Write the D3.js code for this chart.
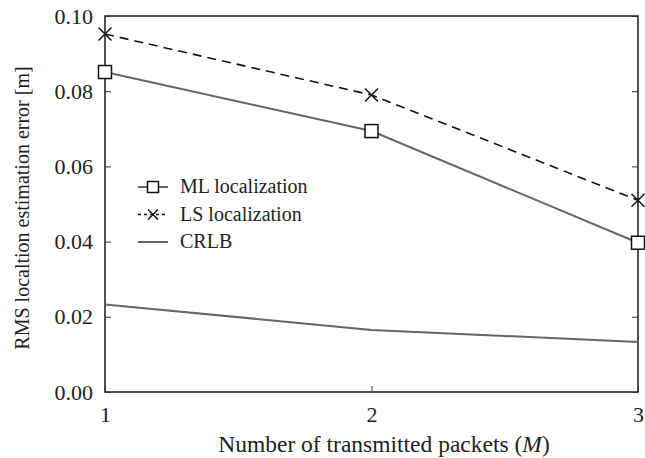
<!DOCTYPE html>
<html>
<head>
<meta charset="utf-8">
<script src="https://cdn.jsdelivr.net/npm/d3@7"></script>
<style>
  body { margin: 0; background: #fff; }
</style>
</head>
<body>
<svg id="chart" width="645" height="458"></svg>
<script>
// data
var packets = [1, 2, 3];
var mlErr = [0.0851, 0.0694, 0.0397];
var lsErr = [0.0952, 0.0790, 0.0510];
var crlb = [0.0233, 0.0165, 0.0133];
var yTicks = [0, 0.02, 0.04, 0.06, 0.08, 0.10];

var FONT = "'Liberation Serif'";

var svg = d3.select("#chart");
var L = 105, R = 638, T = 16, B = 392;

var x = d3.scaleLinear().domain([1, 3]).range([L, R]);
var y = d3.scaleLinear().domain([0, 0.1]).range([B, T]);

// frame
svg.append("rect")
	.attr("x", L).attr("y", T)
	.attr("width", R - L).attr("height", B - T)
	.style("fill", "none")
	.style("stroke", "#1a1a1a")
	.style("stroke-width", 1.5);

// ticks point inward on every side
var yl = svg.append("g").attr("transform", "translate(" + L + ",0)")
	.call(d3.axisLeft(y).tickValues(yTicks).tickSize(-6).tickPadding(12).tickFormat(d3.format(".2f")));
var yr = svg.append("g").attr("transform", "translate(" + R + ",0)")
	.call(d3.axisRight(y).tickValues(yTicks).tickSize(-6).tickFormat(""));
var xb = svg.append("g").attr("transform", "translate(0," + B + ")")
	.call(d3.axisBottom(x).tickValues(packets).tickSize(-6).tickPadding(14).tickFormat(d3.format("d")));

[yl, yr, xb].forEach(function(g) {
	g.attr("font-family", FONT).attr("font-size", 22);
	g.select(".domain").remove();
	g.selectAll("line").style("stroke", "#333").style("stroke-width", 1);
	g.selectAll("text").style("fill", "#222");
});

// lines
var line = d3.line().x(function(d, i) { return x(packets[i]); }).y(function(d) { return y(d); });

svg.append("path").datum(crlb).attr("d", line)
	.style("fill", "none").style("stroke", "#666").style("stroke-width", 2);
svg.append("path").datum(mlErr).attr("d", line)
	.style("fill", "none").style("stroke", "#666").style("stroke-width", 2);
svg.append("path").datum(lsErr).attr("d", line)
	.style("fill", "none").style("stroke", "#111").style("stroke-width", 1.6)
	.style("stroke-dasharray", "9,6");

function drawSquare(g, cx, cy, s) {
	g.append("rect")
		.attr("x", cx - s / 2).attr("y", cy - s / 2)
		.attr("width", s).attr("height", s)
		.style("fill", "#fff").style("stroke", "#111").style("stroke-width", 1.5);
}
function drawCross(g, cx, cy, s) {
	g.append("path")
		.attr("d", "M" + (cx - s) + "," + (cy - s) + "L" + (cx + s) + "," + (cy + s) +
			"M" + (cx - s) + "," + (cy + s) + "L" + (cx + s) + "," + (cy - s))
		.style("fill", "none").style("stroke", "#111").style("stroke-width", 1.5);
}

var marks = svg.append("g");
mlErr.forEach(function(d, i) { drawSquare(marks, x(packets[i]), y(d), 13); });
lsErr.forEach(function(d, i) { drawCross(marks, x(packets[i]), y(d), 6.5); });

// legend
var lg = svg.append("g");
var rows = [
	{name: "ML localization", dash: null, color: "#666", mark: "sq"},
	{name: "LS localization", dash: "3,3", color: "#111", mark: "x"},
	{name: "CRLB", dash: null, color: "#666", mark: null}
];
rows.forEach(function(r, i) {
	var cy = 187 + i * 27.5;
	lg.append("line").attr("x1", 138).attr("x2", 168).attr("y1", cy).attr("y2", cy)
		.style("stroke", r.color).style("stroke-width", r.dash ? 1.5 : 2)
		.style("stroke-dasharray", r.dash);
	if (r.mark == "sq") drawSquare(lg, 153, cy, 11);
	if (r.mark == "x") drawCross(lg, 153, cy, 5);
	lg.append("text").attr("x", 180).attr("y", cy + 6)
		.style("font-family", FONT).style("fill", "#222")
		.style("font-size", "20px").text(r.name);
});

// axis titles
svg.append("text")
	.attr("x", 384).attr("y", 452)
	.attr("text-anchor", "middle")
	.style("font-family", FONT).style("fill", "#222")
	.style("font-size", "23.5px")
	.html('Number of transmitted packets (<tspan font-style="italic">M</tspan>)');

svg.append("text")
	.attr("transform", "translate(29,208) rotate(-90)")
	.attr("text-anchor", "middle")
	.style("font-family", FONT).style("fill", "#222")
	.style("font-size", "20px")
	.text("RMS localtion estimation error [m]");
</script>
</body>
</html>
